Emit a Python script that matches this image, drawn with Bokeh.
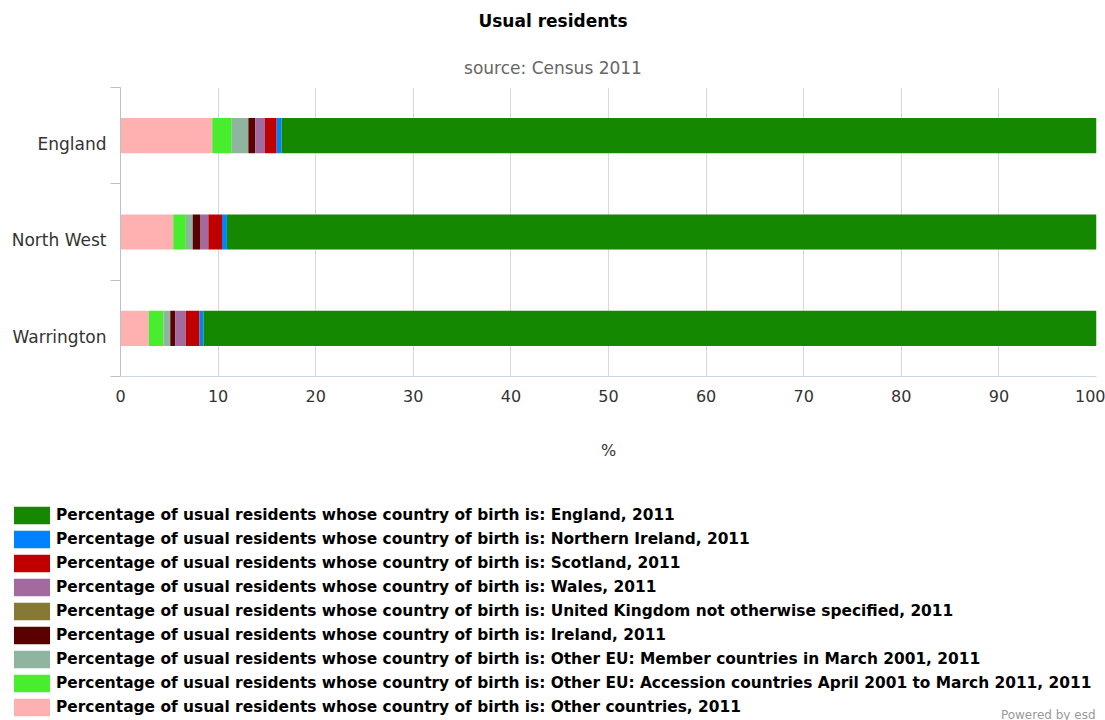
from bokeh.plotting import figure
from bokeh.layouts import column
from bokeh.models import (Range1d, LinearAxis, FixedTicker, Legend, LegendItem,
                          Label, ColumnDataSource)
from bokeh.embed import file_html
from bokeh.resources import INLINE

# Country of birth of usual residents, Census 2011 (percent)
categories = ["England", "North West", "Warrington"]
other_countries = [9.4, 5.4, 2.9]
eu_accession = [2.0, 1.3, 1.5]
eu_member = [1.7, 0.7, 0.7]
ireland = [0.7, 0.8, 0.5]
uk_not_specified = [0.0, 0.0, 0.0]
wales = [1.0, 0.8, 1.1]
scotland = [1.2, 1.4, 1.4]
northern_ireland = [0.5, 0.5, 0.4]
england = [83.5, 89.1, 91.5]

x_ticks = [0, 10, 20, 30, 40, 50, 60, 70, 80, 90, 100]

prefix = "Percentage of usual residents whose country of birth is: "
# (column, values, colour, legend label) in stacking order, left to right
series = [
    ("other", other_countries, "#ffb1b1", "Other countries, 2011"),
    ("accession", eu_accession, "#48ee2e", "Other EU: Accession countries April 2001 to March 2011, 2011"),
    ("member", eu_member, "#8fb5a1", "Other EU: Member countries in March 2001, 2011"),
    ("ireland", ireland, "#5a0000", "Ireland, 2011"),
    ("uknos", uk_not_specified, "#857934", "United Kingdom not otherwise specified, 2011"),
    ("wales", wales, "#a36aa0", "Wales, 2011"),
    ("scotland", scotland, "#c00000", "Scotland, 2011"),
    ("nireland", northern_ireland, "#0082ff", "Northern Ireland, 2011"),
    ("england", england, "#148800", "England, 2011"),
]

n = len(categories)
ypos = [n - 1 - i + 0.5 for i in range(n)]
data = {"y": ypos}
for key, vals, _, _ in series:
    data[key] = vals
source = ColumnDataSource(data)

FONT = "DejaVu Sans"
W = 1105


def blank(height, **kw):
    f = figure(width=W, height=height, output_backend="svg", toolbar_location=None,
               x_range=Range1d(0, W), y_range=Range1d(0, height),
               x_axis_location=None, y_axis_location=None, min_border=0, **kw)
    f.outline_line_color = None
    f.xgrid.grid_line_color = None
    f.ygrid.grid_line_color = None
    f.frame_align = False
    return f


# ---- heading ----
head = blank(87)
head.add_layout(Label(x=W / 2, y=67, text="Usual residents", text_align="center",
                      text_baseline="middle", text_font=FONT, text_font_size="17px",
                      text_font_style="bold", text_color="#000000"))
head.add_layout(Label(x=W / 2, y=20, text="source: Census 2011", text_align="center",
                      text_baseline="middle", text_font=FONT, text_font_size="17px",
                      text_color="#666666"))

# ---- chart ----
p = figure(width=W, height=413, output_backend="svg", toolbar_location=None,
           x_range=Range1d(0, 100), y_range=Range1d(0, n),
           x_axis_location=None, y_axis_location=None,
           min_border_left=120, min_border_right=9, min_border_top=0,
           min_border_bottom=124)
p.outline_line_color = None
p.frame_align = False

p.hbar_stack([s[0] for s in series], y="y", height=0.365,
             color=[s[2] for s in series], line_color=None, source=source)

p.xgrid.ticker = FixedTicker(ticks=x_ticks)
p.xgrid.grid_line_color = "#d8d8d8"
p.ygrid.grid_line_color = None

xaxis = LinearAxis(ticker=FixedTicker(ticks=x_ticks), axis_label="%")
xaxis.axis_line_color = "#ccd6eb"
xaxis.major_tick_line_color = None
xaxis.minor_tick_line_color = None
xaxis.major_label_text_font = FONT
xaxis.major_label_text_font_size = "16px"
xaxis.major_label_text_color = "#333333"
xaxis.major_label_standoff = 7
xaxis.axis_label_text_font = FONT
xaxis.axis_label_text_font_size = "16px"
xaxis.axis_label_text_font_style = "normal"
xaxis.axis_label_text_color = "#333333"
xaxis.axis_label_standoff = 36
p.add_layout(xaxis, "below")

# category axis: ticks between the bands, names just under each band's middle
label_pos = [round(y - 0.085, 3) for y in ypos]
yaxis = LinearAxis(ticker=FixedTicker(ticks=label_pos, minor_ticks=list(range(n + 1))))
yaxis.major_label_overrides = {y: c for y, c in zip(label_pos, categories)}
yaxis.axis_line_color = "#c0c0c0"
yaxis.major_tick_line_color = None
yaxis.minor_tick_line_color = "#c0c0c0"
yaxis.minor_tick_out = 10
yaxis.minor_tick_in = 0
yaxis.major_label_standoff = 4
yaxis.major_label_text_font = FONT
yaxis.major_label_text_font_size = "17px"
yaxis.major_label_text_color = "#333333"
p.add_layout(yaxis, "left")

# ---- legend ----
q = blank(220)
items = []
for key, vals, col, lab in reversed(series):
    swatch = q.rect(x=[-100], y=[-100], width=[1], height=[1], color=col,
                    line_color=None)
    items.append(LegendItem(label=prefix + lab, renderers=[swatch]))

# legend swatches fill 80% of the glyph box
legend = Legend(items=items, location=(9, 2), orientation="vertical",
                padding=0, margin=0, spacing=2, glyph_width=45, glyph_height=22,
                label_height=22, label_standoff=2,
                label_text_font=FONT, label_text_font_size="15.4px",
                label_text_font_style="bold", label_text_color="#000000",
                border_line_color=None, background_fill_alpha=0)
q.add_layout(legend, "center")

q.add_layout(Label(x=1095, y=13, text="Powered by esd", text_align="right",
                   text_baseline="top", text_font=FONT, text_font_size="12px",
                   text_color="#999999"))

open("out.html", "w").write(file_html(column(head, p, q, spacing=0), INLINE))
